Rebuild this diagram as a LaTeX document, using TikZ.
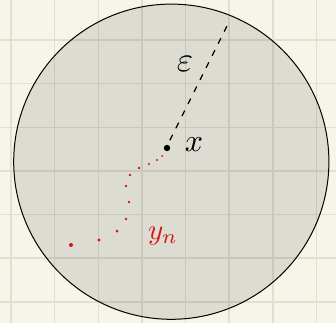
\documentclass[tikz,border=0pt]{standalone}
\usepackage{amsmath,amssymb}
\usepackage{xcolor}
\usepackage{tikz}
\definecolor{paper}{RGB}{247,245,234}
\definecolor{gridline}{RGB}{226,223,206}
\definecolor{inkred}{RGB}{214,20,20}

\begin{document}
\begin{tikzpicture}[x=1pt,y=-1pt]
  \useasboundingbox (0,0) rectangle (336,323);
  % Paper with grid
  \fill[paper] (0,0) rectangle (336,323);
  \foreach \gx in {0,...,7}
    { \draw[gridline, line width=1.6pt] ({11+43.65*\gx},0) -- ({11+43.65*\gx},323); }
  \foreach \gy in {0,...,6}
    { \draw[gridline, line width=1.6pt] (0,{40+43.65*\gy}) -- (336,{40+43.65*\gy}); }
  % Ball around x
  \fill[black, fill opacity=0.1] (171.3,161.7) circle (157.6);
  \draw[black, line width=1pt] (171.3,161.7) circle (157.6);
  % Centre point and radius
  \coordinate (ctr) at (167,148);
  \coordinate (rim) at (229,22);
  \fill[black] (ctr) circle (3.2);
  \draw[black, line width=1.3pt, line cap=round, dash pattern=on 5.5pt off 8pt]
    ([shift={(3,-8)}]ctr) -- (rim);
  \node[scale=3.5] (epslabel) at (185,64) {$\varepsilon$};
  \node[scale=3.2] (xlabel) at (194,145) {$x$};
  % Sequence y_n running into x
  \foreach \px/\py/\pr in {
      71/245/2.0, 99/240/1.6, 117/231/1.5, 126/219/1.4,
      129/202/1.4, 126/186/1.3, 130/175/1.3, 139/168/1.4,
      149/164/1.2, 157/160/1.1, 162/156/1.0}
    { \fill[inkred] (\px,\py) circle (\pr); }
  \node[inkred, scale=2.9] (ylabel) at (163,236) {$y_n$};
\end{tikzpicture}
\end{document}
